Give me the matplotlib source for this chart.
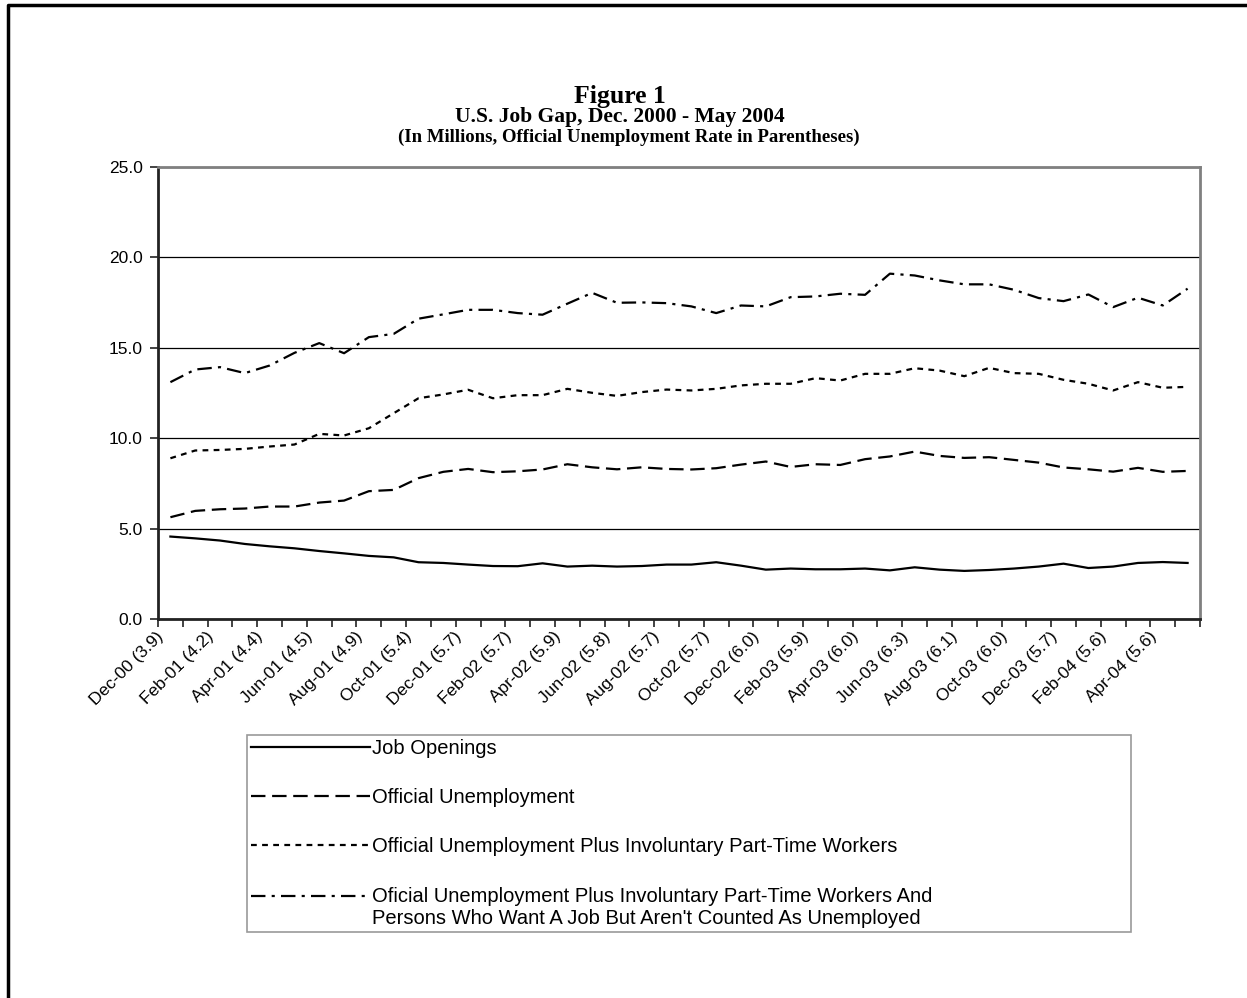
import matplotlib
matplotlib.use("Agg")
import matplotlib.pyplot as plt
from matplotlib.lines import Line2D
from matplotlib.legend_handler import HandlerLine2D
from matplotlib.transforms import ScaledTranslation
import numpy as np

# ---------------- data ----------------
months = ["Dec-00", "Jan-01", "Feb-01", "Mar-01", "Apr-01", "May-01", "Jun-01", "Jul-01",
          "Aug-01", "Sep-01", "Oct-01", "Nov-01", "Dec-01", "Jan-02", "Feb-02", "Mar-02",
          "Apr-02", "May-02", "Jun-02", "Jul-02", "Aug-02", "Sep-02", "Oct-02", "Nov-02",
          "Dec-02", "Jan-03", "Feb-03", "Mar-03", "Apr-03", "May-03", "Jun-03", "Jul-03",
          "Aug-03", "Sep-03", "Oct-03", "Nov-03", "Dec-03", "Jan-04", "Feb-04", "Mar-04",
          "Apr-04", "May-04"]

tick_labels = ["Dec-00 (3.9)", "Feb-01 (4.2)", "Apr-01 (4.4)", "Jun-01 (4.5)", "Aug-01 (4.9)",
               "Oct-01 (5.4)", "Dec-01 (5.7)", "Feb-02 (5.7)", "Apr-02 (5.9)", "Jun-02 (5.8)",
               "Aug-02 (5.7)", "Oct-02 (5.7)", "Dec-02 (6.0)", "Feb-03 (5.9)", "Apr-03 (6.0)",
               "Jun-03 (6.3)", "Aug-03 (6.1)", "Oct-03 (6.0)", "Dec-03 (5.7)", "Feb-04 (5.6)",
               "Apr-04 (5.6)"]

job_openings = [4.56, 4.46, 4.34, 4.15, 4.02, 3.91, 3.76, 3.63, 3.49, 3.41,
                3.14, 3.10, 3.01, 2.93, 2.92, 3.08, 2.90, 2.95, 2.90, 2.93,
                3.01, 3.01, 3.14, 2.95, 2.73, 2.79, 2.75, 2.75, 2.79, 2.69,
                2.86, 2.73, 2.66, 2.71, 2.79, 2.90, 3.06, 2.82, 2.90, 3.10,
                3.15, 3.10]

official_unemp = [5.63, 5.98, 6.07, 6.11, 6.22, 6.22, 6.44, 6.55, 7.07, 7.14,
                  7.79, 8.14, 8.30, 8.12, 8.17, 8.27, 8.56, 8.39, 8.28, 8.39,
                  8.30, 8.27, 8.34, 8.54, 8.71, 8.41, 8.56, 8.52, 8.84, 8.99,
                  9.26, 9.02, 8.91, 8.95, 8.80, 8.65, 8.38, 8.28, 8.15, 8.36,
                  8.14, 8.19]

plus_part_time = [8.89, 9.32, 9.35, 9.41, 9.54, 9.65, 10.24, 10.15, 10.55, 11.38,
                  12.21, 12.42, 12.68, 12.21, 12.38, 12.38, 12.73, 12.51, 12.34, 12.55,
                  12.69, 12.64, 12.73, 12.92, 13.01, 13.01, 13.32, 13.19, 13.56, 13.56,
                  13.87, 13.74, 13.43, 13.89, 13.60, 13.56, 13.23, 13.01, 12.64, 13.10,
                  12.79, 12.84]

plus_discouraged = [13.10, 13.80, 13.93, 13.60, 14.02, 14.72, 15.26, 14.70, 15.59, 15.77,
                    16.61, 16.85, 17.10, 17.10, 16.92, 16.83, 17.44, 18.04, 17.49, 17.51,
                    17.47, 17.29, 16.92, 17.34, 17.29, 17.80, 17.84, 17.99, 17.93, 19.10,
                    19.00, 18.73, 18.51, 18.51, 18.21, 17.75, 17.58, 17.95, 17.25, 17.77,
                    17.34, 18.27]

series_labels = ["Job Openings",
                 "Official Unemployment",
                 "Official Unemployment Plus Involuntary Part-Time Workers",
                 "Oficial Unemployment Plus Involuntary Part-Time Workers And\n"
                 "Persons Who Want A Job But Aren't Counted As Unemployed"]

# ---------------- figure ----------------
W, H = 1247, 998
fig = plt.figure(figsize=(W / 100, H / 100), dpi=100)
fig.patch.set_facecolor("white")

sans = ["Liberation Sans", "DejaVu Sans"]
serif = ["Liberation Serif", "DejaVu Serif"]

ax_l, ax_r, ax_t, ax_b = 158, 1200, 167, 619
ax = fig.add_axes([ax_l / W, 1 - ax_b / H, (ax_r - ax_l) / W, (ax_b - ax_t) / H])

x = np.arange(len(months))
lw = 1.6
l1, = ax.plot(x, job_openings, color="black", lw=lw, linestyle="-",
              solid_joinstyle="round", label=series_labels[0])
l2, = ax.plot(x, official_unemp, color="black", lw=lw, linestyle=(0, (6.5, 3.0)),
              label=series_labels[1])
l3, = ax.plot(x, plus_part_time, color="black", lw=lw, linestyle=(0, (2.6, 2.4)),
              label=series_labels[2])
l4, = ax.plot(x, plus_discouraged, color="black", lw=lw, linestyle=(0, (6.5, 2.8, 1.4, 2.8)),
              label=series_labels[3])

ax.set_xlim(-0.5, len(months) - 0.5)
ax.set_ylim(0, 25)

# gridlines
ax.set_yticks(np.arange(0, 26, 5))
ax.set_yticklabels([f"{v:.1f}" for v in np.arange(0, 26, 5)], fontfamily=sans, fontsize=12.5)
ax.yaxis.grid(True, color="black", lw=0.9)
ax.set_axisbelow(True)

# x ticks at category boundaries, labels every other category
ax.set_xticks(np.arange(len(months) + 1) - 0.5)
ax.set_xticklabels([])
ax.set_xticks(np.arange(0, len(months), 2), minor=True)
ax.set_xticklabels(tick_labels, minor=True, rotation=45, ha="right", va="center",
                   rotation_mode="anchor", fontfamily=sans, fontsize=12.5)
ax.tick_params(axis="x", which="major", length=6, width=1.2, color="#222222", direction="out")
ax.tick_params(axis="x", which="minor", length=0, pad=11)
ax.tick_params(axis="y", length=6, width=1.2, color="#222222", direction="out", pad=5)
shift = ScaledTranslation(-9 / 100, 0, fig.dpi_scale_trans)
for lab in ax.get_xticklabels(minor=True):
    lab.set_transform(lab.get_transform() + shift)

for side in ("left", "bottom"):
    ax.spines[side].set_color("#222222")
    ax.spines[side].set_linewidth(2.0)
for side in ("top", "right"):
    ax.spines[side].set_color("#808080")
    ax.spines[side].set_linewidth(2.0)

# titles
fig.text(0.497, 1 - 97 / H, "Figure 1", ha="center", va="center",
         fontfamily=serif, fontweight="bold", fontsize=18.5)
fig.text(0.497, 1 - 117 / H, "U.S. Job Gap, Dec. 2000 - May 2004", ha="center", va="center",
         fontfamily=serif, fontweight="bold", fontsize=15.5)
fig.text(0.504, 1 - 137 / H, "(In Millions, Official Unemployment Rate in Parentheses)",
         ha="center", va="center", fontfamily=serif, fontweight="bold", fontsize=13.5)


# legend handle aligned with the first line of a two-line label
class FirstLineHandler(HandlerLine2D):
    def create_artists(self, legend, orig_handle, xdescent, ydescent, width, height,
                       fontsize, trans):
        arts = super().create_artists(legend, orig_handle, xdescent, ydescent, width,
                                      height, fontsize, trans)
        for a in arts:
            a.set_ydata(np.asarray(a.get_ydata()) + 0.6 * fontsize)
        return arts


lg_l, lg_r, lg_t, lg_b = 247, 1131, 735, 928
leg = fig.legend(handles=[l1, l2, l3, l4], labels=series_labels,
                 loc="upper left",
                 bbox_to_anchor=(lg_l / W, 1 - lg_b / H, (lg_r - lg_l) / W, (lg_b - lg_t) / H),
                 mode="expand", ncol=1, frameon=True, fancybox=False,
                 prop={"family": sans, "size": 14.5},
                 handlelength=5.9, handletextpad=0.12, labelspacing=1.5,
                 borderpad=0.2, borderaxespad=0,
                 handler_map={l4: FirstLineHandler()})
leg.get_frame().set_edgecolor("#808080")
leg.get_frame().set_linewidth(1.2)

# outer border (left and top)
border = Line2D([8 / W, 8 / W, 1.0], [0.0, 1 - 5 / H, 1 - 5 / H],
                transform=fig.transFigure, color="black", lw=2.5)
fig.add_artist(border)

fig.savefig("out.png", dpi=100, facecolor="white")
